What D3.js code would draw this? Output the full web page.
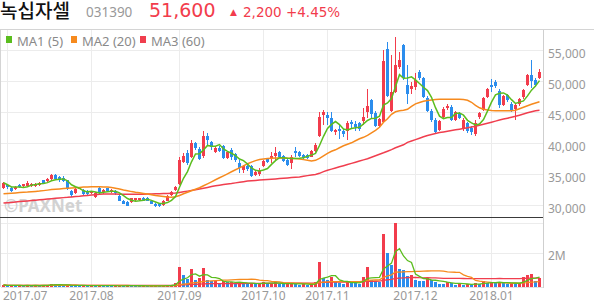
<!DOCTYPE html>
<html>
<head>
<meta charset="utf-8">
<script src="https://cdn.jsdelivr.net/npm/d3@7"></script>
<style>
  body { margin: 0; background: #fff; }
  svg { display: block; font-family: "Noto Sans", sans-serif; }
</style>
</head>
<body>
<svg id="chart" width="594" height="304"></svg>
<script>
// daily candles, 2017-06-30 .. 2018-01-18 (one entry per trading day)
const open = [32800,33350,32750,32600,33300,33100,33200,33200,33150,33350,
  34050,33950,34250,34950,34600,34400,34050,32350,32000,32650,
  32550,32350,31950,31400,32800,32100,32750,32200,32400,31550,
  30800,30600,30600,30850,30850,31200,31250,30700,30250,30200,
  30100,30800,31700,32550,33400,37050,38500,37900,40050,39100,
  37950,41250,40250,38700,39250,39650,37650,39000,38250,36850,
  35750,36300,36300,34850,35050,36300,37500,37650,37950,38550,
  37950,37350,36850,38800,38650,38100,38200,37900,38800,41150,
  44650,44650,44100,41800,42300,41950,41950,43500,43100,43350,
  43650,45150,47000,45000,42850,43400,55250,45200,48350,52350,
  55900,49450,48750,49100,51550,50500,47400,45300,43800,42200,
  44300,45700,45950,43800,44750,42350,43300,42500,41550,44250,
  45450,47550,49450,50000,48500,46250,47750,46400,45600,46300,
  47450,49500,51100,50300,50550];
const high = [33800,33500,33000,33200,33500,33500,33900,33650,33600,33800,
  34150,34400,35050,35050,34700,34800,34150,32550,32750,33050,
  32700,32550,32400,32200,32950,32700,32850,32600,32550,31750,
  30900,30700,31250,31250,31250,31300,31300,30850,30450,30450,
  30900,31650,32300,33200,37850,38500,39000,40600,40250,39450,
  41950,41700,40450,39650,39650,39800,38800,39250,38500,37350,
  36550,36550,36550,35500,36100,37300,37700,38650,39400,38750,
  38200,37700,38200,39450,38800,38250,38350,39000,40100,45150,
  45450,45150,45100,42350,42950,42300,43550,43750,43600,43500,
  45750,48800,47200,45250,44150,55100,56400,54300,57200,54800,
  56100,52700,49950,51400,51800,50750,47700,45600,44150,43800,
  45900,46400,46250,45250,45100,44150,43500,42750,43800,45100,
  47550,49000,50450,50300,48800,47850,48000,46750,46400,47350,
  48800,51250,53500,50600,52050];
const low = [32700,32700,32250,32550,32850,32950,33000,33000,33000,33200,
  33500,33800,34150,34150,33800,33800,32550,31450,31900,32600,
  31750,31750,31800,31250,31900,31900,32200,32050,31750,30700,
  30200,29850,30450,30750,30750,30750,30700,30200,29700,29750,
  29950,30750,31550,32350,33250,36900,36550,37700,39000,37350,
  37700,39800,39000,38500,38650,37550,37550,37350,37050,35250,
  35250,35600,34550,34700,34800,36150,36900,36900,37350,37700,
  37050,36300,35900,37800,37850,37550,37550,37800,38650,41000,
  43000,43000,41800,41400,40750,41100,40600,42450,42050,42050,
  43000,44150,44000,42700,42700,43350,47550,45100,48200,52050,
  50300,46400,48000,48650,50300,47350,45100,43500,41550,41950,
  44150,45450,43650,43650,44000,42050,41700,41400,41250,44000,
  45250,47350,48350,49000,45750,46100,46750,45100,43800,46100,
  47200,49300,49000,49150,50450];
const close = [33700,33000,32300,32950,32950,33400,33600,33500,33450,33650,
  33600,34250,34950,34250,34050,33950,32700,31750,32650,32850,
  31900,31850,32250,32050,32000,32550,32300,32550,32000,30800,
  30300,30000,31150,31150,31150,30800,30800,30250,29850,29900,
  30800,31550,32100,32950,37350,38000,36900,40050,39250,37500,
  41150,40500,39450,39250,38750,37650,38600,37900,37300,36050,
  36300,35900,34700,35400,35600,37100,37050,38000,38450,37900,
  37200,36500,37900,38450,38000,37700,37700,38800,39800,44350,
  45150,44100,42000,42100,41950,41500,43350,43150,42700,42350,
  44250,46100,44800,42850,43950,53350,47700,48350,52650,53450,
  50500,47950,49200,50200,50500,47550,45250,43750,41850,43650,
  45600,46100,43800,45050,44100,43800,41950,41800,43300,44900,
  47300,48800,49050,49200,46150,47600,46950,45450,46150,47200,
  48600,51000,50100,49400,51600];
const volume = [120000,80000,100000,70000,90000,80000,100000,80000,90000,80000,
  100000,120000,200000,150000,100000,80000,120000,100000,90000,70000,
  80000,70000,90000,80000,100000,80000,70000,60000,70000,80000,
  70000,90000,80000,70000,60000,70000,60000,70000,80000,60000,
  90000,100000,120000,220000,1210000,720000,470000,1060000,430000,530000,
  1150000,430000,330000,350000,240000,330000,280000,310000,240000,280000,
  200000,170000,250000,170000,240000,280000,200000,240000,280000,170000,
  150000,190000,240000,190000,140000,160000,120000,160000,300000,1500000,
  560000,430000,590000,270000,240000,200000,330000,270000,240000,200000,
  620000,1210000,430000,330000,270000,3140000,2040000,1310000,3800000,1090000,
  980000,660000,740000,390000,370000,360000,530000,430000,310000,200000,
  190000,310000,240000,140000,200000,140000,170000,120000,250000,200000,
  330000,240000,290000,240000,310000,240000,200000,240000,200000,240000,
  590000,700000,780000,330000,530000];
// 20- and 60-day averages as drawn on the chart
const ma20 = [31890,31940,31980,32030,32080,32130,32160,32210,32260,32320,
  32400,32480,32570,32630,32680,32730,32770,32820,32870,32920,
  32970,33000,33020,33020,33020,33000,32970,32890,32770,32650,
  32500,32370,32240,32130,32050,31950,31840,31730,31610,31520,
  31440,31360,31320,31400,31610,31890,32130,32370,32610,32860,
  33180,33500,33820,34150,34470,34790,35110,35440,35760,36080,
  36400,36730,37000,37240,37420,37500,37570,37630,37660,37660,
  37650,37630,37610,37570,37480,37400,37290,37180,37290,37610,
  38020,38420,38740,38980,39310,39630,39870,40110,40440,40760,
  41000,41320,41730,42130,42610,43420,43980,44710,45110,45280,
  45360,45520,46000,46400,46600,46810,46940,47020,47080,47130,
  47130,47130,47130,47130,47130,47100,46970,46650,46160,45760,
  45520,45390,45310,45280,45280,45280,45280,45280,45360,45600,
  45840,46080,46320,46520,46730];
const ma60 = [30390,30450,30500,30560,30630,30680,30740,30790,30850,30920,
  30970,31030,31100,31150,31210,31270,31320,31390,31450,31500,
  31570,31630,31680,31740,31810,31860,31860,31840,31840,31820,
  31820,31810,31810,31810,31810,31820,31840,31860,31890,31900,
  31920,31950,31980,32020,32110,32210,32320,32440,32530,32660,
  32790,32920,33050,33180,33270,33370,33470,33550,33650,33740,
  33840,33940,34000,34050,34100,34150,34190,34240,34290,34340,
  34390,34440,34500,34550,34600,34710,34820,34920,35000,35190,
  35470,35680,35870,36050,36240,36420,36600,36790,36980,37180,
  37360,37530,37770,38020,38260,38500,38760,39020,39310,39550,
  39790,40180,40400,40630,40850,41080,41280,41440,41600,41760,
  41870,41980,42100,42210,42310,42420,42530,42650,42770,42940,
  43100,43270,43440,43610,43790,43940,44080,44230,44390,44570,
  44760,44950,45130,45280,45360];

const monthIndex = [1, 22, 44, 65, 81, 103, 122];
const monthLabels = ["2017.07", "2017.08", "2017.09", "2017.10", "2017.11", "2017.12", "2018.01"];
const priceTicks = [30000, 35000, 40000, 45000, 50000, 55000];
const volumeTicks = [2000000];
const legendItems = ["MA1 (5)", "MA2 (20)", "MA3 (60)"];

const upColor = "#f23c4c", downColor = "#2b8ded";
const maColors = ["#5bbd1e", "#f68a1e", "#f03e4e"];
const gridColor = "#ececec";
const textColor = "#999";

const svg = d3.select("#chart");
const plotLeft = 1, plotRight = 543, plotTop = 30;
const priceBottom = 217.5, volTop = 223, volBottom = 287;

function movingAverage(values, n) {
  return values.map((v, i) => d3.mean(values.slice(Math.max(0, i - n + 1), i + 1)));
}
const ma5 = movingAverage(close, 5);

const idx = d3.range(close.length);
const x = d3.scaleBand().domain(idx).range([2, 2 + 4 * (idx.length - 0.25)]).paddingInner(0.25);
const cx = i => x(i) + x.bandwidth() / 2;
const y = d3.scaleLinear().domain([30000, 55000]).range([205.5, 50.5]);
const yv = d3.scaleLinear().domain([0, d3.max(volume)]).range([volBottom, volTop]);

// ---- header ----
const head = svg.append("g");
head.append("text").attr("x", 0).attr("y", 18)
  .style("font-family", "'Noto Sans CJK KR'").style("font-size", "19px").style("font-weight", 500)
  .attr("fill", "#111").text("녹십자셀");
head.append("text").attr("x", 86).attr("y", 16.7)
  .style("font-size", "13.5px").attr("fill", textColor).text("031390");
head.append("text").attr("x", 149).attr("y", 17.3)
  .style("font-family", "'DejaVu Sans'").style("font-size", "19px")
  .attr("fill", upColor).text("51,600");
head.append("text").attr("x", 230).attr("y", 15)
  .style("font-family", "'DejaVu Sans'").style("font-size", "9px")
  .attr("fill", upColor).text("▲");
head.append("text").attr("x", 243).attr("y", 16.7)
  .style("font-family", "'DejaVu Sans'").style("font-size", "13.5px")
  .attr("fill", upColor).text("2,200 +4.45%");

// ---- frame & grid ----
svg.append("line").attr("x1", 0).attr("x2", 594).attr("y1", plotTop - 0.5).attr("y2", plotTop - 0.5)
  .attr("stroke", "#d4d4d4");
svg.append("line").attr("x1", plotLeft - 0.5).attr("x2", plotLeft - 0.5).attr("y1", plotTop).attr("y2", volBottom)
  .attr("stroke", "#d4d4d4");

const grid = svg.append("g");
grid.selectAll(".hg").data(priceTicks).join("line")
  .attr("x1", plotLeft).attr("x2", plotRight)
  .attr("y1", d => y(d)).attr("y2", d => y(d))
  .attr("stroke", gridColor);
grid.selectAll(".vg").data(volumeTicks.concat([d3.max(volume)])).join("line")
  .attr("x1", plotLeft).attr("x2", plotRight)
  .attr("y1", d => Math.round(yv(d)) + 0.5).attr("y2", d => Math.round(yv(d)) + 0.5)
  .attr("stroke", gridColor);
grid.selectAll(".mg").data(monthIndex).join("line")
  .attr("x1", d => cx(d)).attr("x2", d => cx(d))
  .attr("y1", plotTop).attr("y2", volBottom)
  .attr("stroke", gridColor);

// watermark
svg.append("text").attr("x", 4).attr("y", 212)
  .style("font-size", "17px").style("font-weight", "bold")
  .attr("fill", "#d2d2d2").text("©PAXNet");

// ---- legend ----
const legend = svg.append("g");
const legendX = [6, 71, 140];
legendItems.forEach((t, k) => {
  legend.append("rect").attr("x", legendX[k]).attr("y", 36).attr("width", 6).attr("height", 7)
    .attr("fill", maColors[k]);
  legend.append("text").attr("x", legendX[k] + 11).attr("y", 45.5)
    .style("font-size", "13px").attr("fill", "#8a8a8a").text(t);
});

// ---- candles ----
const candles = svg.append("g").attr("shape-rendering", "crispEdges");
candles.selectAll(".wick").data(idx).join("line")
  .attr("x1", cx).attr("x2", cx)
  .attr("y1", i => y(high[i])).attr("y2", i => y(low[i]))
  .attr("stroke", i => close[i] >= open[i] ? upColor : downColor);
candles.selectAll(".body").data(idx).join("rect")
  .attr("x", i => x(i)).attr("width", x.bandwidth())
  .attr("y", i => y(Math.max(open[i], close[i])))
  .attr("height", i => Math.max(1, Math.abs(y(open[i]) - y(close[i]))))
  .attr("fill", i => close[i] >= open[i] ? upColor : downColor);

// ---- moving averages ----
const priceLine = arr => d3.line().x((d, i) => cx(i)).y(d => y(d))(arr);
[ma60, ma20, ma5].forEach((arr, k) => {
  svg.append("path").attr("d", priceLine(arr)).attr("fill", "none")
    .attr("stroke", maColors[2 - k]).attr("stroke-width", 1.5);
});

// separator between price and volume panels
svg.append("line").attr("x1", 0).attr("x2", plotRight).attr("y1", priceBottom).attr("y2", priceBottom)
  .attr("stroke", "#3a3a3a");

// ---- volume ----
svg.append("g").attr("shape-rendering", "crispEdges")
  .selectAll("rect").data(idx).join("rect")
  .attr("x", i => x(i)).attr("width", x.bandwidth())
  .attr("y", i => yv(volume[i])).attr("height", i => volBottom - yv(volume[i]))
  .attr("fill", i => (i === 0 || volume[i] >= volume[i - 1]) ? upColor : downColor);

const volLine = arr => d3.line().x((d, i) => cx(i)).y(d => yv(d))(arr);
[60, 20, 5].forEach((n, k) => {
  svg.append("path").attr("d", volLine(movingAverage(volume, n))).attr("fill", "none")
    .attr("stroke", maColors[2 - k]).attr("stroke-width", 1.3);
});

svg.append("line").attr("x1", plotLeft).attr("x2", plotRight).attr("y1", volBottom + 0.5).attr("y2", volBottom + 0.5)
  .attr("stroke", "#e2e2e2");
svg.append("line").attr("x1", plotRight + 0.5).attr("x2", plotRight + 0.5).attr("y1", plotTop).attr("y2", volBottom + 1)
  .attr("stroke", "#cfcfcf");

// ---- axes ----
const yAxis = svg.append("g").attr("transform", `translate(${plotRight},0)`)
  .call(d3.axisRight(y).tickValues(priceTicks).tickSize(0).tickPadding(5).tickFormat(d3.format(",")));
yAxis.select(".domain").remove();
yAxis.selectAll("text").attr("dy", "0.62em").style("font-size", "12px").attr("fill", textColor)
  .style("font-family", "'Noto Sans'");

const vAxis = svg.append("g").attr("transform", `translate(${plotRight},0)`)
  .call(d3.axisRight(yv).tickValues(volumeTicks).tickSize(0).tickPadding(5).tickFormat(d => d / 1e6 + "M"));
vAxis.select(".domain").remove();
vAxis.selectAll("text").attr("dy", "0.55em").style("font-size", "12px").attr("fill", textColor)
  .style("font-family", "'Noto Sans'");

const xAxis = svg.append("g").attr("transform", `translate(0,${volBottom})`)
  .call(d3.axisBottom(x).tickValues(monthIndex).tickSize(0).tickPadding(4)
    .tickFormat((d, k) => monthLabels[k]));
xAxis.select(".domain").remove();
xAxis.selectAll("text").style("font-size", "12px").attr("fill", textColor)
  .style("font-family", "'Noto Sans'");
xAxis.select(".tick text").attr("text-anchor", "start").attr("x", 3 - cx(monthIndex[0]));
</script>
</body>
</html>
